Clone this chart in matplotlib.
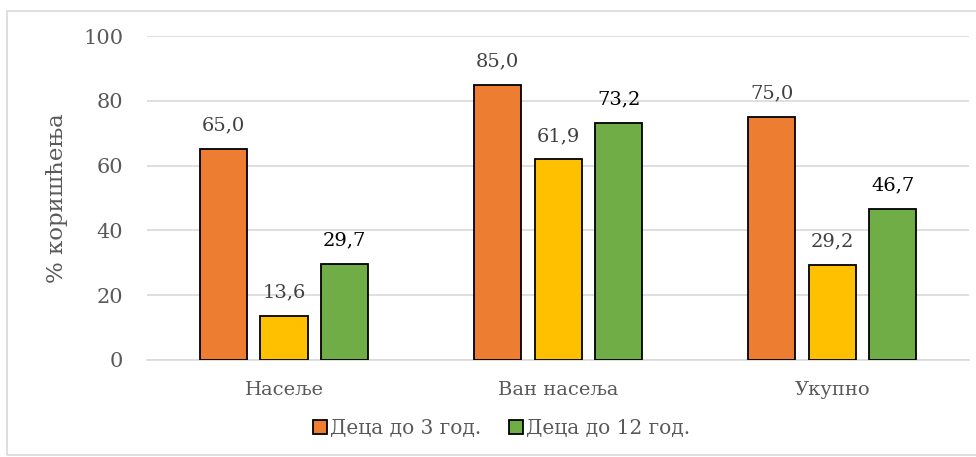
import matplotlib
matplotlib.use("Agg")
import matplotlib.pyplot as plt
import numpy as np
from matplotlib.patches import Rectangle, Patch

# data
categories = ["Насеље", "Ван насеља", "Укупно"]
deca_3 = [65.0, 85.0, 75.0]
srednja = [13.6, 61.9, 29.2]
deca_12 = [29.7, 73.2, 46.7]

plt.rcParams['font.family'] = ['DejaVu Serif']

fig = plt.figure(figsize=(9.76, 4.57), dpi=100)
ax = fig.add_axes([0.1506, 0.2123, 0.8424, 0.7089])

# light border around chart
fig.patches.append(Rectangle((7 / 976, 0.004), 1.0, 1 - 11 / 457 - 0.004, transform=fig.transFigure,
                             fill=False, edgecolor='#d9d9d9', linewidth=1.2))

x = np.arange(len(categories))
w = 0.172
gap = 0.221
c_or, c_ye, c_gr = '#ed7d31', '#ffc000', '#70ad47'

b1 = ax.bar(x - gap, deca_3, w, color=c_or, edgecolor='black', linewidth=1.3, zorder=3)
b2 = ax.bar(x, srednja, w, color=c_ye, edgecolor='black', linewidth=1.3, zorder=3)
b3 = ax.bar(x + gap, deca_12, w, color=c_gr, edgecolor='black', linewidth=1.3, zorder=3)

for bars, col in [(b1, '#404040'), (b2, '#404040'), (b3, 'black')]:
    for b in bars:
        v = b.get_height()
        ax.text(b.get_x() + b.get_width() / 2, v + 4.5, f"{v:.1f}".replace('.', ','),
                ha='center', va='bottom', fontsize=14, color=col)

ax.set_xlim(-0.5, 2.5)
ax.set_ylim(0, 100)
ax.set_yticks(range(0, 101, 20))
ax.set_xticks(x)
ax.set_xticklabels(categories)
ax.tick_params(axis='both', length=0, labelsize=14, colors='#595959')
ax.tick_params(axis='y', labelsize=15, pad=17)
ax.tick_params(axis='x', pad=15)
ax.grid(axis='y', color='#d9d9d9', linewidth=1.2, zorder=0)
for s in ['top', 'right', 'left']:
    ax.spines[s].set_visible(False)
ax.spines['bottom'].set_color('#d9d9d9')
ax.spines['bottom'].set_linewidth(1.2)
ax.set_ylabel('% коришћења', fontsize=16.5, color='#595959', labelpad=11)

handles = [Patch(facecolor=c_or, edgecolor='black', linewidth=1.3),
           Patch(facecolor=c_gr, edgecolor='black', linewidth=1.3)]
fig.legend(handles, ['Деца до 3 год.', 'Деца до 12 год.'], loc='center',
           bbox_to_anchor=(0.514, 0.063), ncol=2, frameon=False, fontsize=14.5,
           labelcolor='#595959', handlelength=0.7, handleheight=0.7,
           handletextpad=0.15, columnspacing=1.4)

fig.savefig('out.png', dpi=100)
